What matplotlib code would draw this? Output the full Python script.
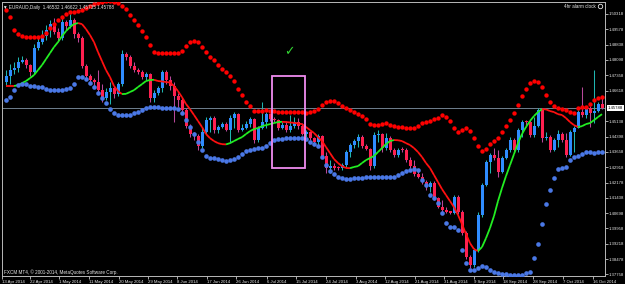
import numpy as np
import matplotlib as mpl
mpl.use('Agg')
import matplotlib.pyplot as plt
from matplotlib.collections import LineCollection
from matplotlib.patches import Rectangle

# EURAUD daily, one value per bar (oldest first)
first_open = 1.4703
closes = [
    1.4732, 1.4761, 1.4771, 1.4800, 1.4809, 1.4785, 1.4751, 1.4867, 1.4896, 1.4925,
    1.4954, 1.4983, 1.4944, 1.4915, 1.4993, 1.4973, 1.5002, 1.4935, 1.4915, 1.4780,
    1.4732, 1.4713, 1.4703, 1.4664, 1.4626, 1.4655, 1.4674, 1.4645, 1.4693, 1.4838,
    1.4824, 1.4780, 1.4761, 1.4751, 1.4727, 1.4742, 1.4626, 1.4650, 1.4674, 1.4751,
    1.4713, 1.4684, 1.4635, 1.4616, 1.4568, 1.4490, 1.4452, 1.4442, 1.4394, 1.4461,
    1.4519, 1.4529, 1.4471, 1.4486, 1.4500, 1.4471, 1.4529, 1.4548, 1.4471, 1.4481,
    1.4500, 1.4524, 1.4423, 1.4481, 1.4510, 1.4548, 1.4524, 1.4519, 1.4481, 1.4495,
    1.4471, 1.4490, 1.4510, 1.4490, 1.4452, 1.4461, 1.4432, 1.4413, 1.4442, 1.4346,
    1.4288, 1.4297, 1.4288, 1.4286, 1.4302, 1.4365, 1.4399, 1.4418, 1.4437, 1.4394,
    1.4379, 1.4297, 1.4447, 1.4452, 1.4384, 1.4432, 1.4375, 1.4350, 1.4375, 1.4373,
    1.4326, 1.4297, 1.4259, 1.4244, 1.4220, 1.4196, 1.4215, 1.4143, 1.4099, 1.4085,
    1.4075, 1.4073, 1.4147, 1.4075, 1.3974, 1.3858, 1.3819, 1.3892, 1.4061, 1.4206,
    1.4317, 1.4350, 1.4336, 1.4268, 1.4336, 1.4375, 1.4423, 1.4375, 1.4471, 1.4510,
    1.4508, 1.4447, 1.4490, 1.4568, 1.4432, 1.4437, 1.4375, 1.4423, 1.4452, 1.4423,
    1.4350, 1.4461, 1.4481, 1.4558, 1.4544, 1.4577, 1.4553, 1.4563, 1.4597, 1.4579,
]
highs = [
    1.4761, 1.4790, 1.4800, 1.4824, 1.4828, 1.4819, 1.4790, 1.4886, 1.4925, 1.4954,
    1.4978, 1.5002, 1.5012, 1.4964, 1.5012, 1.5002, 1.5031, 1.5012, 1.4944, 1.4925,
    1.4790, 1.4742, 1.4722, 1.4761, 1.4693, 1.4674, 1.4703, 1.4684, 1.4703, 1.4858,
    1.4848, 1.4833, 1.4800, 1.4771, 1.4761, 1.4751, 1.4746, 1.4664, 1.4684, 1.4761,
    1.4761, 1.4732, 1.4703, 1.4650, 1.4626, 1.4577, 1.4500, 1.4461, 1.4452, 1.4481,
    1.4534, 1.4539, 1.4539, 1.4495, 1.4510, 1.4510, 1.4544, 1.4558, 1.4553, 1.4500,
    1.4515, 1.4534, 1.4529, 1.4490, 1.4606, 1.4558, 1.4553, 1.4534, 1.4524, 1.4510,
    1.4515, 1.4544, 1.4534, 1.4529, 1.4505, 1.4471, 1.4466, 1.4437, 1.4452, 1.4447,
    1.4365, 1.4326, 1.4312, 1.4297, 1.4312, 1.4375, 1.4408, 1.4428, 1.4452, 1.4447,
    1.4403, 1.4384, 1.4461, 1.4471, 1.4457, 1.4457, 1.4442, 1.4384, 1.4384, 1.4389,
    1.4384, 1.4341, 1.4326, 1.4278, 1.4263, 1.4230, 1.4225, 1.4225, 1.4147, 1.4133,
    1.4099, 1.4080, 1.4157, 1.4157, 1.4085, 1.3983, 1.3867, 1.3901, 1.4075, 1.4215,
    1.4326, 1.4360, 1.4384, 1.4375, 1.4346, 1.4384, 1.4437, 1.4432, 1.4481, 1.4519,
    1.4519, 1.4519, 1.4534, 1.4577, 1.4577, 1.4461, 1.4447, 1.4432, 1.4471, 1.4461,
    1.4457, 1.4471, 1.4490, 1.4568, 1.4679, 1.4587, 1.4587, 1.4761, 1.4606, 1.4630,
]
lows = [
    1.4688, 1.4693, 1.4742, 1.4751, 1.4795, 1.4771, 1.4732, 1.4742, 1.4858, 1.4886,
    1.4906, 1.4920, 1.4935, 1.4896, 1.4906, 1.4954, 1.4964, 1.4915, 1.4896, 1.4771,
    1.4722, 1.4693, 1.4684, 1.4655, 1.4606, 1.4616, 1.4597, 1.4626, 1.4635, 1.4684,
    1.4809, 1.4771, 1.4751, 1.4742, 1.4717, 1.4713, 1.4606, 1.4606, 1.4640, 1.4655,
    1.4693, 1.4664, 1.4510, 1.4582, 1.4558, 1.4481, 1.4437, 1.4423, 1.4375, 1.4384,
    1.4452, 1.4461, 1.4457, 1.4457, 1.4481, 1.4466, 1.4408, 1.4481, 1.4461, 1.4466,
    1.4476, 1.4486, 1.4408, 1.4413, 1.4476, 1.4481, 1.4515, 1.4510, 1.4471, 1.4476,
    1.4461, 1.4461, 1.4481, 1.4476, 1.4447, 1.4437, 1.4423, 1.4403, 1.4389, 1.4336,
    1.4263, 1.4263, 1.4278, 1.4278, 1.4278, 1.4293, 1.4341, 1.4384, 1.4389, 1.4384,
    1.4375, 1.4278, 1.4288, 1.4413, 1.4365, 1.4375, 1.4365, 1.4341, 1.4341, 1.4365,
    1.4317, 1.4288, 1.4249, 1.4239, 1.4210, 1.4181, 1.4172, 1.4133, 1.4094, 1.4075,
    1.4070, 1.4065, 1.4065, 1.4065, 1.3964, 1.3848, 1.3805, 1.3809, 1.3882, 1.4051,
    1.4201, 1.4263, 1.4326, 1.4244, 1.4263, 1.4331, 1.4365, 1.4365, 1.4365, 1.4437,
    1.4486, 1.4437, 1.4437, 1.4486, 1.4413, 1.4423, 1.4365, 1.4370, 1.4389, 1.4413,
    1.4341, 1.4346, 1.4365, 1.4481, 1.4534, 1.4529, 1.4486, 1.4505, 1.4558, 1.4572,
]
# trend line (green rising, red falling)
trend_ma = [
    1.4684, 1.4684, 1.4684, 1.4688, 1.4698, 1.4708, 1.4722, 1.4737, 1.4761, 1.4785,
    1.4814, 1.4843, 1.4872, 1.4896, 1.4925, 1.4949, 1.4969, 1.4983, 1.4988, 1.4983,
    1.4959, 1.4930, 1.4896, 1.4848, 1.4804, 1.4761, 1.4727, 1.4684, 1.4659, 1.4645,
    1.4646, 1.4655, 1.4664, 1.4679, 1.4693, 1.4708, 1.4713, 1.4714, 1.4708, 1.4706,
    1.4703, 1.4701, 1.4684, 1.4659, 1.4630, 1.4597, 1.4572, 1.4544, 1.4515, 1.4486,
    1.4452, 1.4432, 1.4418, 1.4408, 1.4403, 1.4402, 1.4408, 1.4418, 1.4428, 1.4437,
    1.4452, 1.4466, 1.4476, 1.4481, 1.4490, 1.4495, 1.4500, 1.4505, 1.4510, 1.4511,
    1.4510, 1.4508, 1.4506, 1.4503, 1.4500, 1.4486, 1.4471, 1.4457, 1.4437, 1.4418,
    1.4389, 1.4360, 1.4331, 1.4312, 1.4297, 1.4288, 1.4287, 1.4293, 1.4297, 1.4312,
    1.4326, 1.4336, 1.4346, 1.4365, 1.4384, 1.4403, 1.4418, 1.4423, 1.4422, 1.4418,
    1.4408, 1.4399, 1.4384, 1.4365, 1.4341, 1.4312, 1.4288, 1.4254, 1.4220, 1.4186,
    1.4157, 1.4128, 1.4099, 1.4061, 1.4017, 1.3969, 1.3925, 1.3896, 1.3887, 1.3906,
    1.3949, 1.3998, 1.4056, 1.4128, 1.4191, 1.4249, 1.4302, 1.4355, 1.4408, 1.4452,
    1.4486, 1.4515, 1.4539, 1.4558, 1.4572, 1.4571, 1.4563, 1.4558, 1.4548, 1.4544,
    1.4529, 1.4510, 1.4495, 1.4486, 1.4490, 1.4500, 1.4505, 1.4519, 1.4534, 1.4548,
]
# upper (red) and lower (blue) dotted bands
upper_dots = [
    1.5051, 1.5017, 1.4954, 1.4935, 1.4925, 1.4920, 1.4920, 1.4920, 1.4920, 1.4925,
    1.4940, 1.4964, 1.4983, 1.5002, 1.5017, 1.5031, 1.5041, 1.5041, 1.5046, 1.5051,
    1.5060, 1.5070, 1.5080, 1.5085, 1.5089, 1.5094, 1.5094, 1.5089, 1.5085, 1.5070,
    1.5056, 1.5027, 1.5002, 1.4978, 1.4949, 1.4920, 1.4882, 1.4848, 1.4843, 1.4843,
    1.4843, 1.4843, 1.4843, 1.4843, 1.4853, 1.4877, 1.4896, 1.4901, 1.4896, 1.4872,
    1.4848, 1.4824, 1.4809, 1.4785, 1.4766, 1.4751, 1.4732, 1.4708, 1.4669, 1.4640,
    1.4606, 1.4587, 1.4563, 1.4563, 1.4563, 1.4568, 1.4563, 1.4563, 1.4558, 1.4558,
    1.4558, 1.4558, 1.4558, 1.4558, 1.4558, 1.4553, 1.4558, 1.4563, 1.4572, 1.4592,
    1.4606, 1.4611, 1.4611, 1.4602, 1.4587, 1.4577, 1.4568, 1.4558, 1.4548, 1.4539,
    1.4524, 1.4500, 1.4495, 1.4495, 1.4500, 1.4505, 1.4495, 1.4490, 1.4486, 1.4486,
    1.4481, 1.4481, 1.4481, 1.4490, 1.4505, 1.4510, 1.4515, 1.4524, 1.4529, 1.4544,
    1.4534, 1.4515, 1.4481, 1.4461, 1.4471, 1.4481, 1.4466, 1.4432, 1.4394, 1.4370,
    1.4379, 1.4403, 1.4418, 1.4432, 1.4461, 1.4490, 1.4519, 1.4553, 1.4592, 1.4635,
    1.4669, 1.4698, 1.4708, 1.4703, 1.4679, 1.4640, 1.4606, 1.4587, 1.4577, 1.4572,
    1.4568, 1.4558, 1.4553, 1.4577, 1.4582, 1.4582, 1.4597, 1.4616, 1.4626, 1.4630,
]
lower_dots = [
    1.4616, 1.4630, 1.4664, 1.4688, 1.4693, 1.4693, 1.4684, 1.4684, 1.4679, 1.4679,
    1.4669, 1.4664, 1.4664, 1.4664, 1.4664, 1.4669, 1.4674, 1.4693, 1.4727, 1.4727,
    1.4717, 1.4698, 1.4679, 1.4650, 1.4626, 1.4602, 1.4572, 1.4553, 1.4544, 1.4544,
    1.4544, 1.4544, 1.4553, 1.4558, 1.4568, 1.4577, 1.4582, 1.4582, 1.4582, 1.4577,
    1.4577, 1.4577, 1.4577, 1.4572, 1.4553, 1.4519, 1.4486, 1.4452, 1.4413, 1.4375,
    1.4346, 1.4336, 1.4336, 1.4331, 1.4326, 1.4321, 1.4326, 1.4331, 1.4341, 1.4355,
    1.4370, 1.4375, 1.4379, 1.4384, 1.4384, 1.4394, 1.4408, 1.4423, 1.4428, 1.4428,
    1.4432, 1.4432, 1.4432, 1.4432, 1.4432, 1.4428, 1.4413, 1.4403, 1.4394, 1.4341,
    1.4302, 1.4273, 1.4259, 1.4244, 1.4239, 1.4235, 1.4235, 1.4239, 1.4239, 1.4239,
    1.4244, 1.4244, 1.4244, 1.4244, 1.4244, 1.4244, 1.4244, 1.4244, 1.4254, 1.4263,
    1.4273, 1.4278, 1.4283, 1.4278, 1.4230, 1.4206, 1.4157, 1.4143, 1.4119, 1.4070,
    1.4022, 1.4003, 1.4003, 1.3988, 1.3892, 1.3829, 1.3795, 1.3795, 1.3805, 1.3814,
    1.3809, 1.3795, 1.3785, 1.3781, 1.3776, 1.3776, 1.3771, 1.3771, 1.3771, 1.3771,
    1.3781, 1.3785, 1.3853, 1.3921, 1.4017, 1.4114, 1.4181, 1.4239, 1.4283, 1.4288,
    1.4293, 1.4326, 1.4341, 1.4346, 1.4355, 1.4365, 1.4365, 1.4360, 1.4365, 1.4365,
]

price_ticks = [1.50318, 1.49578, 1.48838, 1.48098, 1.47358, 1.46618, 1.45138,
               1.44398, 1.43658, 1.42918, 1.42178, 1.41438, 1.40698, 1.39958,
               1.39218, 1.38478, 1.37758]
last_price = 1.45788
date_labels = ['13 Apr 2014', '22 Apr 2014', '1 May 2014', '11 May 2014',
               '20 May 2014', '29 May 2014', '8 Jun 2014', '17 Jun 2014',
               '26 Jun 2014', '6 Jul 2014', '15 Jul 2014', '24 Jul 2014',
               '3 Aug 2014', '12 Aug 2014', '21 Aug 2014', '31 Aug 2014',
               '9 Sep 2014', '18 Sep 2014', '28 Sep 2014', '7 Oct 2014',
               '16 Oct 2014']
date_bars = [-1, 6, 13.25, 20.75, 28.25, 35.5, 42.75, 50.25, 57.5, 65.25, 72.5,
             80, 87.5, 94.75, 102.25, 109.5, 117, 124.25, 131.75, 139.25, 146.75]
title = '\u25bc EURAUD,Daily  1.46532 1.46622 1.45735 1.45788'
copyright_txt = 'FXCM MT4, \u00a9 2001-2014, MetaQuotes Software Corp.'

BULL, BULL_WICK = '#2F8CFF', '#1FB5B0'
BEAR, BEAR_WICK = '#FF2050', '#B8489A'
TXT = '#E8E8E8'
FS = 3.1

plt.rcParams['font.family'] = ['Liberation Sans', 'DejaVu Sans']

W, H = 625, 284
fig = plt.figure(figsize=(W / 100, H / 100), dpi=100, facecolor='black')
ax = fig.add_axes([2 / W, 8 / H, 603 / W, 274 / H], facecolor='black')

idx = np.arange(len(closes))
c = np.array(closes)
o = np.concatenate([[first_open], c[:-1]])
hi = np.array(highs)
lo = np.array(lows)
up = c >= o

# current price line
ax.axhline(last_price, color='#6F7F8F', lw=0.7, zorder=1)

ax.vlines(idx, lo, hi, colors=np.where(up, BULL_WICK, BEAR_WICK), lw=0.75, zorder=2)
body = np.maximum(np.abs(c - o), 0.0005)
ax.bar(idx, body, width=0.75, bottom=np.minimum(o, c),
       color=np.where(up, BULL, BEAR), linewidth=0, zorder=2.5)

ma = np.array(trend_ma)
pts = np.column_stack([idx, ma])
segs = np.stack([pts[:-1], pts[1:]], axis=1)
seg_cols = np.where(np.diff(ma) > 0, '#22EE22', '#FF1010')
ax.add_collection(LineCollection(segs, colors=seg_cols, linewidths=1.3, zorder=3))

ax.scatter(idx, upper_dots, s=10, color='#FF0000', linewidths=0, zorder=4)
ax.scatter(idx, lower_dots, s=11, color='#4A78E6', linewidths=0, zorder=4)

# marked zone and check sign
ax.add_patch(Rectangle((66.5, 1.4288), 8.25, 0.0444, fill=False,
                       edgecolor='#F08CF0', lw=1.3, zorder=5))
ax.text(70.75, 1.4848, '\u2713', color='#33D633', fontsize=9,
        family='DejaVu Sans', ha='center', va='center', zorder=5)

ax.set_xlim(-1, 149.75)
ax.set_ylim(1.37663, 1.50897)

ax.yaxis.tick_right()
ax.set_yticks(price_ticks)
ax.set_yticklabels([f'{v:.5f}' for v in price_ticks])
ax.set_xticks(date_bars)
ax.set_xticklabels(date_labels, ha='left')
ax.tick_params(axis='y', colors='#C8C8C8', labelcolor=TXT, labelsize=FS,
               length=2, width=0.6, pad=0.6)
ax.tick_params(axis='x', colors='#C8C8C8', labelcolor=TXT, labelsize=FS,
               length=2.2, width=0.6, pad=0.6)
for sp in ax.spines.values():
    sp.set_color('#B8B8B8')
    sp.set_linewidth(0.7)

ax.text(1.004, last_price, f'{last_price:.5f}', transform=ax.get_yaxis_transform(),
        fontsize=FS, color='black', ha='left', va='center',
        bbox=dict(boxstyle='square,pad=0.2', fc='white', ec='none'), clip_on=False)

fig.text(3 / W, 1 - 7 / H, title, color=TXT, fontsize=3.3, va='center', ha='left')
fig.text(596 / W, 1 - 7 / H, '4hr alarm clock', color=TXT, fontsize=3.3,
         va='center', ha='right')
ax.plot([0.9925], [0.985], marker='o', ms=3.2, mfc='none', mec=TXT, mew=0.6,
        transform=ax.transAxes, clip_on=False)
fig.text(4 / W, 1 - 272 / H, copyright_txt, color=TXT, fontsize=3.3,
         va='center', ha='left')

fig.savefig('out.png', dpi=100, facecolor='black')
